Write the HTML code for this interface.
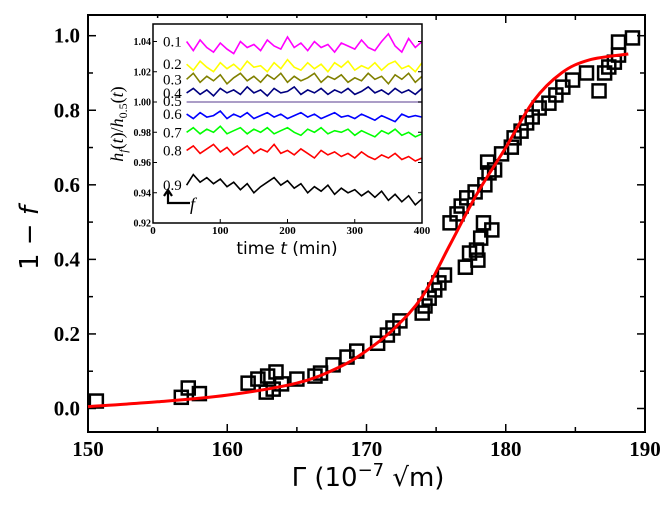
<!DOCTYPE html>
<html><head><meta charset="utf-8"><style>
body{margin:0;background:#fff}
svg text{font-family:"Liberation Serif",serif}
</style></head><body>
<svg id="chart" width="664" height="500" viewBox="0 0 664 500" xmlns="http://www.w3.org/2000/svg"></svg>
<script>
const gammaVals=[150.6,156.7,157.2,158.0,161.5,162.2,162.9,163.5,162.8,163.3,163.9,165.0,166.3,166.7,167.6,168.6,169.3,170.8,171.5,171.9,172.4,174.0,174.2,174.5,174.9,175.2,175.6,177.1,178.0,177.4,176.0,176.5,176.8,177.2,177.8,177.9,178.2,179.0,178.4,178.8,179.2,178.5,178.7,179.7,180.4,180.6,181.1,181.5,181.9,182.4,183.1,183.6,184.1,184.8,185.8,186.7,187.1,187.4,187.8,188.1,189.1,188.1];
const fVals=[0.02,0.03,0.055,0.04,0.068,0.079,0.087,0.098,0.044,0.052,0.066,0.079,0.087,0.095,0.117,0.138,0.154,0.175,0.197,0.216,0.235,0.256,0.275,0.296,0.318,0.337,0.358,0.379,0.398,0.417,0.498,0.522,0.543,0.565,0.581,0.425,0.457,0.479,0.498,0.632,0.640,0.600,0.661,0.683,0.701,0.726,0.744,0.766,0.782,0.806,0.819,0.841,0.862,0.881,0.900,0.852,0.900,0.916,0.929,0.948,0.994,0.983,0.967];
const fitG=[150,155,160,165,168,170,172,174,176,178,180,182,184,186,188.8];
const fitF=[0.005,0.018,0.036,0.068,0.11,0.155,0.215,0.30,0.44,0.58,0.70,0.825,0.9,0.935,0.951];
const xTicks=[150,160,170,180,190];
const yTicks=[0.0,0.2,0.4,0.6,0.8,1.0];
const yTickLabels=["0.0","0.2","0.4","0.6","0.8","1.0"];
// inset
const insetT=[50,60,70,80,90,100,110,120,130,140,150,160,170,180,190,200,210,220,230,240,250,260,270,280,290,300,310,320,330,340,350,360,370,380,390,400];
const insetLabels=["0.1","0.2","0.3","0.4","0.5","0.6","0.7","0.8","0.9"];
const insetColors=["#ff00ff","#ffff00","#808000","#000080","#9f8fbf","#0000ff","#00ff00","#ff0000","#000000"];
const s01=[1.040,1.034,1.041,1.036,1.033,1.039,1.035,1.032,1.040,1.036,1.038,1.034,1.041,1.037,1.035,1.043,1.036,1.039,1.034,1.040,1.036,1.038,1.033,1.039,1.037,1.035,1.041,1.036,1.034,1.040,1.045,1.037,1.033,1.042,1.036,1.040];
const s02=[1.025,1.021,1.027,1.023,1.020,1.026,1.022,1.025,1.021,1.027,1.023,1.024,1.020,1.026,1.022,1.028,1.023,1.021,1.026,1.022,1.025,1.020,1.026,1.023,1.027,1.021,1.024,1.022,1.026,1.021,1.025,1.027,1.022,1.024,1.020,1.026];
const s03=[1.015,1.019,1.013,1.017,1.014,1.018,1.012,1.016,1.019,1.014,1.017,1.013,1.018,1.015,1.019,1.013,1.017,1.014,1.016,1.019,1.013,1.017,1.015,1.018,1.013,1.016,1.014,1.019,1.015,1.017,1.012,1.018,1.015,1.019,1.013,1.017];
const s04=[1.006,1.009,1.005,1.008,1.004,1.009,1.006,1.008,1.005,1.010,1.006,1.008,1.004,1.009,1.006,1.007,1.010,1.005,1.008,1.006,1.009,1.005,1.008,1.006,1.009,1.005,1.007,1.010,1.006,1.008,1.005,1.009,1.006,1.008,1.005,1.009];
const s05=[1.0,1.0,1.0,1.0,1.0,1.0,1.0,1.0,1.0,1.0,1.0,1.0,1.0,1.0,1.0,1.0,1.0,1.0,1.0,1.0,1.0,1.0,1.0,1.0,1.0,1.0,1.0,1.0,1.0,1.0,1.0,1.0,1.0,1.0,1.0,1.0];
const s06=[0.992,0.989,0.993,0.990,0.991,0.994,0.989,0.992,0.990,0.993,0.989,0.991,0.993,0.990,0.992,0.989,0.991,0.993,0.990,0.992,0.989,0.991,0.993,0.990,0.991,0.989,0.992,0.990,0.988,0.991,0.989,0.987,0.992,0.990,0.991,0.990];
const s07=[0.980,0.983,0.979,0.982,0.980,0.984,0.979,0.981,0.983,0.979,0.982,0.980,0.983,0.979,0.981,0.983,0.980,0.978,0.982,0.980,0.983,0.979,0.981,0.980,0.982,0.978,0.981,0.979,0.977,0.981,0.979,0.982,0.978,0.980,0.977,0.979];
const s08=[0.968,0.971,0.966,0.969,0.972,0.967,0.970,0.965,0.968,0.971,0.966,0.969,0.967,0.972,0.966,0.968,0.965,0.969,0.966,0.963,0.968,0.965,0.967,0.964,0.966,0.963,0.967,0.964,0.962,0.965,0.963,0.966,0.962,0.964,0.961,0.963];
const s09=[0.945,0.952,0.947,0.950,0.946,0.949,0.944,0.947,0.942,0.946,0.940,0.944,0.947,0.950,0.945,0.948,0.943,0.946,0.940,0.944,0.941,0.945,0.939,0.943,0.940,0.942,0.938,0.941,0.937,0.941,0.935,0.939,0.934,0.938,0.932,0.936];
const insetSeries=[s01,s02,s03,s04,s05,s06,s07,s08,s09];
const insetXTicks=[0,100,200,300,400];
const insetYTicks=[0.92,0.94,0.96,0.98,1.00,1.02,1.04];
const insetYTickLabels=["0.92","0.94","0.96","0.98","1.00","1.02","1.04"];

const NS="http://www.w3.org/2000/svg";
const svg=document.getElementById('chart');
function mk(tag,attrs,parent){const e=document.createElementNS(NS,tag);for(const k in attrs)e.setAttribute(k,attrs[k]);(parent||svg).appendChild(e);return e;}
const X=g=>88+(g-150)*(645-88)/40;
const Y=f=>408.5-f*372.8;

let box=mk('rect',{x:88,y:15,width:557,height:417,fill:'none',stroke:'#000','stroke-width':2});


for(let g=150;g<=190;g+=5){const major=(g%10===0);const L=major?8:5;
 mk('line',{x1:X(g),x2:X(g),y1:432,y2:432-L,stroke:'#000','stroke-width':1.5});
 mk('line',{x1:X(g),x2:X(g),y1:15,y2:15+L,stroke:'#000','stroke-width':1.5});}
xTicks.forEach(g=>{const t=mk('text',{x:X(g),y:456,'text-anchor':'middle','font-size':21,'font-weight':'bold'});t.textContent=g;
 
 });
for(let i=0;i<=10;i++){const f=i/10;const major=(i%2===0);const L=major?8:5;
 mk('line',{x1:88,x2:88+L,y1:Y(f),y2:Y(f),stroke:'#000','stroke-width':1.5});
 mk('line',{x1:645,x2:645-L,y1:Y(f),y2:Y(f),stroke:'#000','stroke-width':1.5});}
yTicks.forEach((f,i)=>{const t=mk('text',{x:80,y:Y(f)+7,'text-anchor':'end','font-size':21,'font-weight':'bold'});t.textContent=yTickLabels[i];
 
 });
let xl=mk('text',{x:368,y:486,'text-anchor':'middle','font-size':26,style:'font-family:"DejaVu Sans",sans-serif'});
xl.innerHTML='Γ (10<tspan font-size="18" dy="-10">−7</tspan><tspan dy="10"> √m)</tspan>';


let yl=mk('text',{x:0,y:0,'text-anchor':'middle','font-size':26,transform:'translate(38,238) rotate(-90)',style:'font-family:"DejaVu Sans",sans-serif'});
yl.innerHTML='1 − <tspan font-style="italic">f</tspan>';


gammaVals.forEach((g,i)=>{const r=mk('rect',{x:X(g)-6.5,y:Y(fVals[i])-6.5,width:13,height:13,fill:'none',stroke:'#000','stroke-width':2.5});
 
 });
// smooth fit curve (Catmull-Rom)
const P=fitG.map((g,i)=>[X(g),Y(fitF[i])]);
let d='M'+P[0][0].toFixed(1)+','+P[0][1].toFixed(1);
for(let i=0;i<P.length-1;i++){const p0=P[Math.max(0,i-1)],p1=P[i],p2=P[i+1],p3=P[Math.min(P.length-1,i+2)];
 const c1=[p1[0]+(p2[0]-p0[0])/6,p1[1]+(p2[1]-p0[1])/6],c2=[p2[0]-(p3[0]-p1[0])/6,p2[1]-(p3[1]-p1[1])/6];
 d+='C'+c1.map(v=>v.toFixed(1)).join(',')+' '+c2.map(v=>v.toFixed(1)).join(',')+' '+p2.map(v=>v.toFixed(1)).join(',');}
let fit=mk('path',{d:d,fill:'none',stroke:'#ff0000','stroke-width':3,'stroke-linejoin':'round'});



// inset
const IX=t=>153+t*(422-153)/400;
const IY=v=>102+(1-v)*(223-102)/0.08;
let ibg=mk('rect',{x:105,y:18,width:325,height:242,fill:'#fff'});


insetSeries.forEach((s,k)=>{const p=s.map((v,i)=>(i?'L':'M')+IX(insetT[i]).toFixed(1)+','+IY(v).toFixed(1)).join('');
 const pl=mk('path',{d:p,fill:'none',stroke:insetColors[k],'stroke-width':k===4?1.8:1.6});
 
 
 const lb=mk('text',{x:163,y:IY(s[0])+(k===4?4:5),'font-size':15});lb.textContent=insetLabels[k];
 
 });
let ibox=mk('rect',{x:153,y:24,width:269,height:199,fill:'none',stroke:'#000','stroke-width':1.5});


insetXTicks.forEach(t=>{mk('line',{x1:IX(t),x2:IX(t),y1:223,y2:219,stroke:'#000'});
 const tx=mk('text',{x:IX(t),y:234,'text-anchor':'middle','font-size':11,'font-weight':'bold'});tx.textContent=t;
 
 });
insetYTicks.forEach((v,i)=>{mk('line',{x1:153,x2:157,y1:IY(v),y2:IY(v),stroke:'#000'});
 mk('line',{x1:422,x2:418,y1:IY(v),y2:IY(v),stroke:'#000'});
 const tx=mk('text',{x:151,y:IY(v)+3.5,'text-anchor':'end','font-size':10,'font-weight':'bold'});tx.textContent=insetYTickLabels[i];
 
 });
let ixl=mk('text',{x:287,y:254,'text-anchor':'middle','font-size':17,style:'font-family:"DejaVu Sans",sans-serif'});
ixl.innerHTML='time <tspan font-style="italic">t</tspan> (min)';


let iyl=mk('text',{x:0,y:0,'text-anchor':'middle','font-size':18,transform:'translate(123,124) rotate(-90)'});
iyl.innerHTML='<tspan font-style="italic">h</tspan><tspan font-size="12" font-style="italic" dy="4">f</tspan><tspan dy="-4">(</tspan><tspan font-style="italic">t</tspan>)/<tspan font-style="italic">h</tspan><tspan font-size="12" dy="4">0.5</tspan><tspan dy="-4">(</tspan><tspan font-style="italic">t</tspan>)';


let arr=mk('path',{d:'M168,192 L168,203 L190,203 M164,196 L168,190 L172,196',fill:'none',stroke:'#000','stroke-width':2.2});


let af=mk('text',{x:190,y:210,'font-size':18,'font-style':'italic'});af.textContent='f';


</script>
</body></html>
